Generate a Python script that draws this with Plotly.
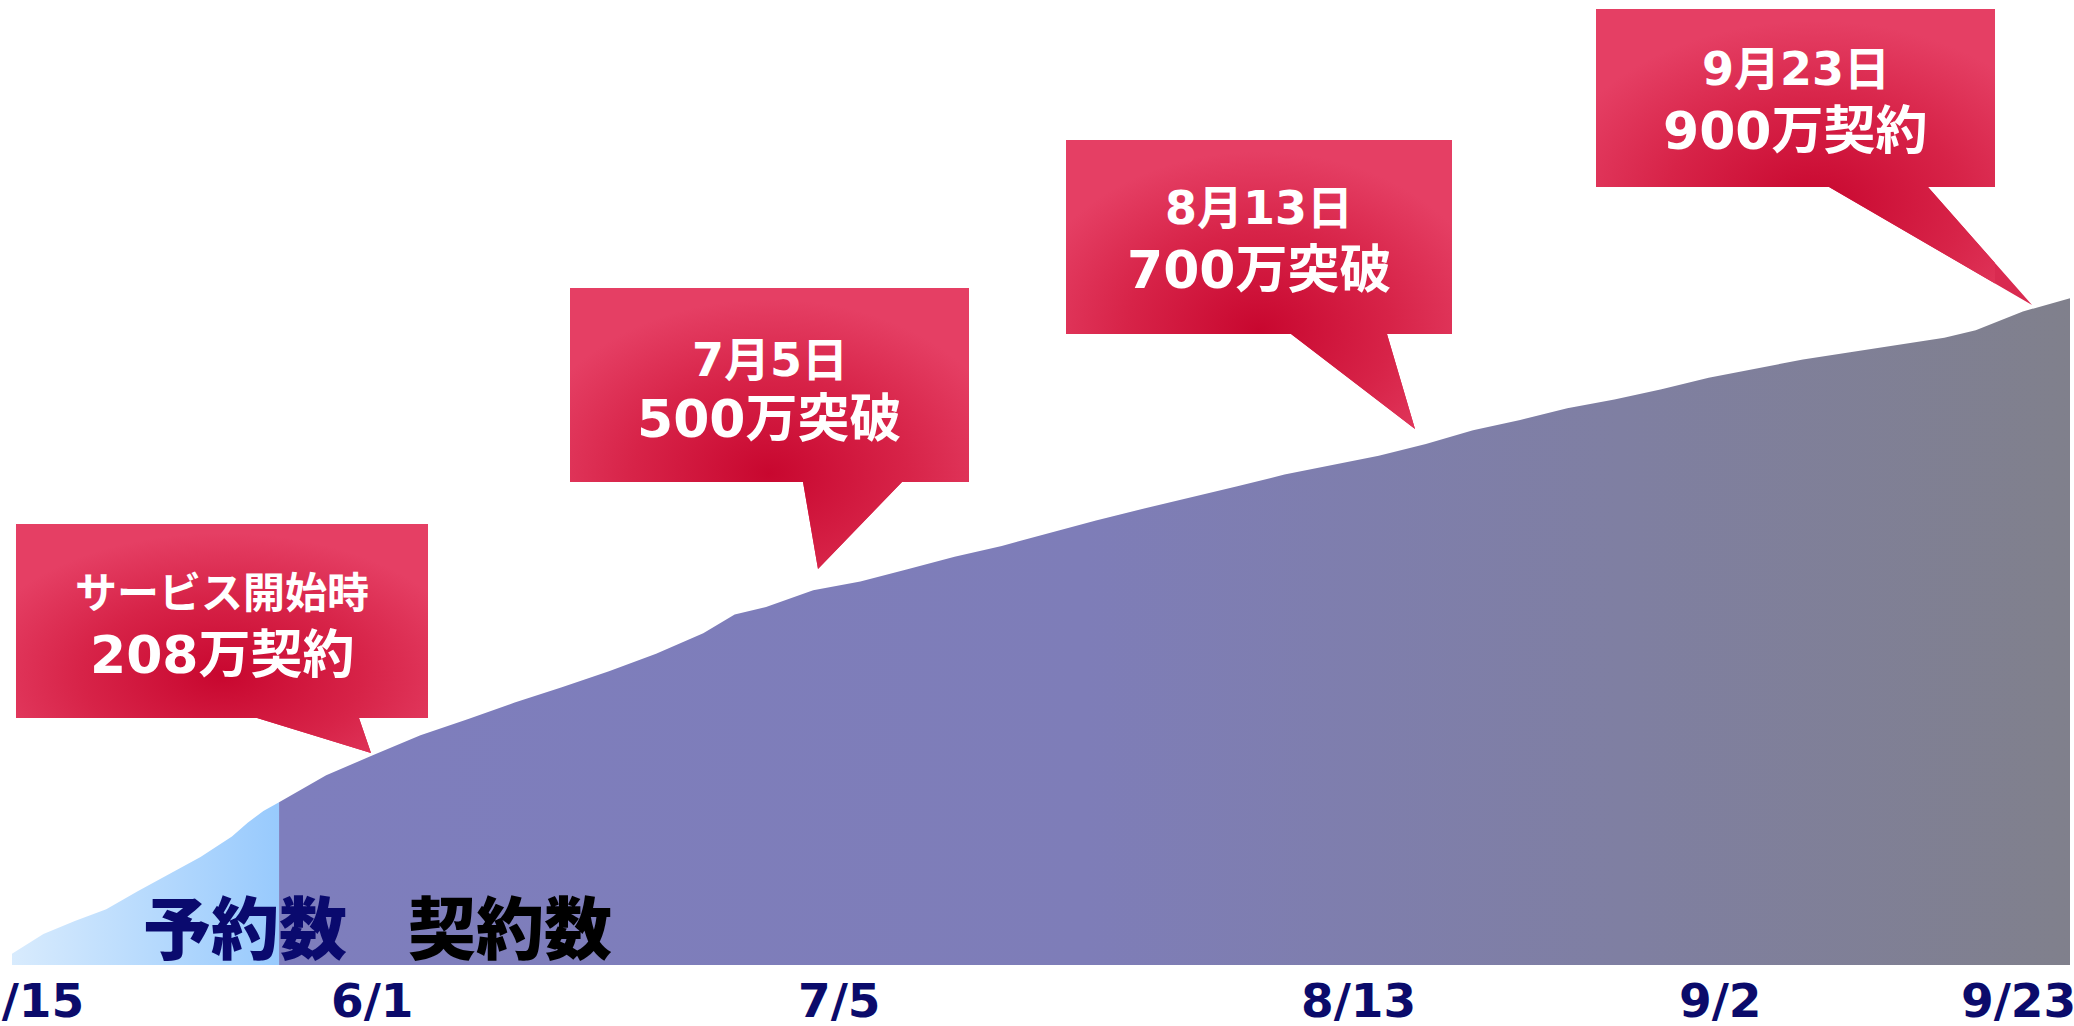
import base64

import plotly.graph_objects as go

# reservations before the service launch (万)
pre_dates = ["2016-05-15", "2016-05-17", "2016-05-19", "2016-05-21", "2016-05-23", "2016-05-25",
             "2016-05-27", "2016-05-29", "2016-05-30", "2016-05-31", "2016-06-01"]
pre_values = [0, 27, 45, 61, 86, 110, 133, 161, 180, 196, 208]

# contracts after launch (万)
contract_dates = ["2016-06-01", "2016-06-04", "2016-06-07", "2016-06-10", "2016-06-13", "2016-06-16",
                  "2016-06-19", "2016-06-22", "2016-06-25", "2016-06-28", "2016-06-30", "2016-07-02",
                  "2016-07-05", "2016-07-08", "2016-07-11", "2016-07-14", "2016-07-17", "2016-07-20",
                  "2016-07-23", "2016-07-26", "2016-07-29", "2016-08-01", "2016-08-04", "2016-08-07",
                  "2016-08-10", "2016-08-13", "2016-08-16", "2016-08-19", "2016-08-22", "2016-08-25",
                  "2016-08-28", "2016-08-31", "2016-09-03", "2016-09-06", "2016-09-09", "2016-09-12",
                  "2016-09-15", "2016-09-17", "2016-09-20", "2016-09-23"]
contract_values = [208, 245, 273, 300, 322, 345, 366, 388, 412, 440, 466, 476, 499, 511, 528, 545,
                   560, 578, 595, 611, 626, 642, 658, 671, 684, 700, 719, 733, 749, 761, 775, 791,
                   804, 816, 826, 836, 846, 856, 882, 900]

tick_dates = ["2016-05-15", "2016-06-01", "2016-07-05", "2016-08-13", "2016-09-02", "2016-09-23"]
tick_text = ["5/15", "6/1", "7/5", "8/13", "9/2", "9/23"]

callout_line1 = ["サービス開始時", "7月5日", "8月13日", "9月23日"]
callout_line2 = ["208万契約", "500万突破", "700万突破", "900万契約"]

series_labels = ["予約数", "契約数"]

# page geometry
W, H = 2074, 1026
ML, MR, MT, MB = 12, 4, 0, 61
PW, PH = W - ML - MR, H - MT - MB
Y_MIN, Y_MAX = -15.4, 1309.6

JP = "DejaVu Sans, Noto Sans CJK JP"


def px2x(px):
    return (px - ML) / PW


def py2y(py):
    return (H - MB - py) / PH


fig = go.Figure()

# baseline + reservation area
fig.add_trace(go.Scatter(x=[pre_dates[0], pre_dates[-1]], y=[Y_MIN, Y_MIN], mode="lines",
                         line=dict(width=0), hoverinfo="skip", showlegend=False))
fig.add_trace(go.Scatter(
    x=pre_dates, y=pre_values, mode="lines", line=dict(width=0), fill="tonexty",
    fillgradient=dict(type="horizontal", colorscale=[[0, "#d8ebfd"], [1, "#98cafd"]]),
    name=series_labels[0], showlegend=False,
))

# baseline + contract area
fig.add_trace(go.Scatter(x=[contract_dates[0], contract_dates[-1]], y=[Y_MIN, Y_MIN], mode="lines",
                         line=dict(width=0), hoverinfo="skip", showlegend=False))
fig.add_trace(go.Scatter(
    x=contract_dates, y=contract_values, mode="lines", line=dict(width=0), fill="tonexty",
    fillgradient=dict(type="horizontal",
                      colorscale=[[0, "#7e7ebd"], [0.45, "#7e7db8"], [0.75, "#7f7fa2"], [1, "#80808c"]]),
    name=series_labels[1], showlegend=False,
))

# callout boxes: (left, top, right, bottom, tail base 1, tail base 2, tip x, tip y) in page pixels
boxes = [
    (16, 524, 428, 718, 257, 359, 371, 753),
    (570, 288, 969, 482, 803, 902, 818, 569),
    (1066, 140, 1452, 334, 1291, 1387, 1415, 429),
    (1596, 9, 1995, 187, 1829, 1928, 2032, 305),
]
text_rows = [(593, 655), (360, 419), (208, 270), (69, 131)]
line1_size = [42, 46, 46, 46]

shapes, images, annotations = [], [], []
for i, (l, t, r, b, b1, b2, tx, ty) in enumerate(boxes):
    pts = [(l, t), (r, t), (r, b), (b2, b), (tx, ty), (b1, b), (l, b)]
    path = "M " + " L ".join(f"{px2x(x):.5f},{py2y(y):.5f}" for x, y in pts) + " Z"
    shapes.append(dict(type="path", path=path, xref="paper", yref="paper",
                       fillcolor="#d92a50", line=dict(width=0), layer="below"))

    bw, bh = r - l, max(ty, b) - t
    d = "M " + " L ".join(f"{x - l},{y - t}" for x, y in pts) + " Z"
    svg = (f'<svg xmlns="http://www.w3.org/2000/svg" width="{bw}" height="{bh}" '
           f'viewBox="0 0 {bw} {bh}" preserveAspectRatio="none"><defs>'
           f'<radialGradient id="g" cx="0.5" cy="0.66" r="0.62">'
           f'<stop offset="0" stop-color="#c8072f"/><stop offset="0.55" stop-color="#d72348"/>'
           f'<stop offset="1" stop-color="#e53f64"/></radialGradient></defs>'
           f'<path d="{d}" fill="url(#g)"/></svg>')
    images.append(dict(
        source="data:image/svg+xml;base64," + base64.b64encode(svg.encode()).decode(),
        xref="paper", yref="paper", x=px2x(l), y=py2y(t), sizex=bw / PW, sizey=bh / PH,
        xanchor="left", yanchor="top", sizing="stretch", layer="above",
    ))

    cx = (l + r) / 2
    y1, y2 = text_rows[i]
    annotations.append(dict(
        text=callout_line1[i], xref="paper", yref="paper", x=px2x(cx), y=py2y(y1),
        showarrow=False, xanchor="center", yanchor="middle",
        font=dict(family=JP, size=line1_size[i], color="white", weight="bold"),
    ))
    annotations.append(dict(
        text=callout_line2[i], xref="paper", yref="paper", x=px2x(cx), y=py2y(y2),
        showarrow=False, xanchor="center", yanchor="middle",
        font=dict(family=JP, size=52, color="white", weight="bold"),
    ))

# date labels, nudged like the original hand-placed ones
label_shift = [14, 93, 26, -67, -20, -52]
for d, txt, dx in zip(tick_dates, tick_text, label_shift):
    annotations.append(dict(
        text=txt, x=d, xref="x", y=0, yref="paper", yanchor="middle", yshift=-35, xshift=dx,
        showarrow=False,
        font=dict(family="DejaVu Sans", size=47, color="#0b0b6b", weight="bold"),
    ))

# series names at the bottom of the areas
annotations.append(dict(
    text=series_labels[0], xref="paper", yref="paper", x=px2x(245), y=py2y(924),
    showarrow=False, xanchor="center", yanchor="middle",
    font=dict(family="Noto Sans CJK JP", size=68, color="#0a0a6e", weight=900),
))
annotations.append(dict(
    text=series_labels[1], xref="paper", yref="paper", x=px2x(510), y=py2y(924),
    showarrow=False, xanchor="center", yanchor="middle",
    font=dict(family="Noto Sans CJK JP", size=68, color="#000000", weight=900),
))

fig.update_layout(
    width=W, height=H,
    margin=dict(l=ML, r=MR, t=MT, b=MB),
    paper_bgcolor="white", plot_bgcolor="white",
    showlegend=False,
    shapes=shapes, images=images, annotations=annotations,
)
fig.update_xaxes(type="date", range=[pre_dates[0], contract_dates[-1]], showgrid=False,
                 zeroline=False, showticklabels=False, showline=False, fixedrange=True)
fig.update_yaxes(range=[Y_MIN, Y_MAX], showgrid=False, zeroline=False, showticklabels=False,
                 showline=False, fixedrange=True)

fig.write_html(
    "out.html",
    config={"displayModeBar": False},
    post_script="document.body.style.margin='0';document.body.style.overflow='hidden';",
)
